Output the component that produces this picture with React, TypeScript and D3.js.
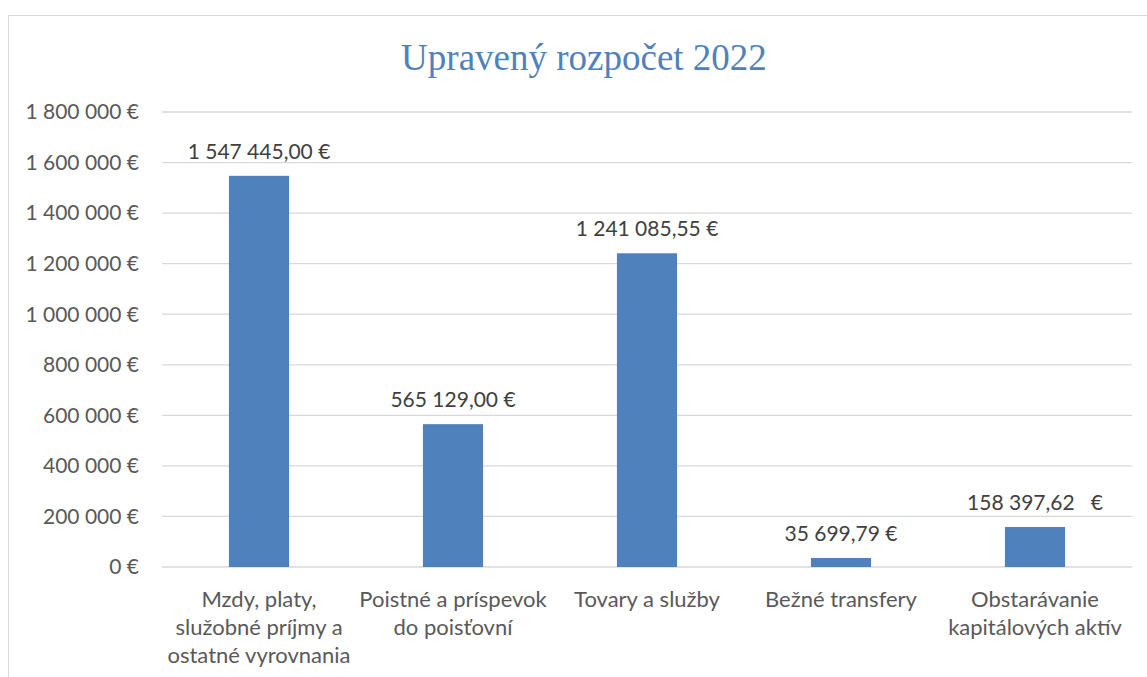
import React from "react";
import * as d3 from "d3";

const categories: string[][] = [
  ["Mzdy, platy,", "služobné príjmy a", "ostatné vyrovnania"],
  ["Poistné a príspevok", "do poisťovní"],
  ["Tovary a služby"],
  ["Bežné transfery"],
  ["Obstarávanie", "kapitálových aktív"],
];
const values: number[] = [1547445.0, 565129.0, 1241085.55, 35699.79, 158397.62];
const valueLabels: string[] = [
  "1 547 445,00 €",
  "565 129,00 €",
  "1 241 085,55 €",
  "35 699,79 €",
  "158 397,62   €",
];
const yTicks: number[] = [0, 200000, 400000, 600000, 800000, 1000000, 1200000, 1400000, 1600000, 1800000];
const title = "Upravený rozpočet 2022";

const W = 1147;
const H = 677;
const plotLeft = 162;
const plotRight = 1132;
const plotTop = 112;
const plotBottom = 567;
const FONT = "Lato, 'Open Sans', sans-serif";
const TEXT = "#595959";

const fmtTick = (v: number) =>
  (v === 0 ? "0" : d3.format(",")(v).replace(/,/g, " ")) + " €";

export default function App() {
  const x = d3
    .scaleBand<number>()
    .domain(categories.map((_, i) => i))
    .range([plotLeft, plotRight])
    .paddingInner(0.69)
    .paddingOuter(0.345);
  const y = d3.scaleLinear().domain([0, 1800000]).range([plotBottom, plotTop]);

  return (
    <svg
      width={W}
      height={H}
      style={{ position: "absolute", left: 0, top: 0, background: "#fff" }}
    >
      <rect x={8.5} y={15.5} width={1160} height={700} fill="#fff" stroke="#d9d9d9" strokeWidth={1} />
      <text
        x={584}
        y={70}
        textAnchor="middle"
        fontFamily="'Liberation Serif', 'Times New Roman', serif"
        fontSize={37}
        fill="#4F81BD"
      >
        {title}
      </text>
      {yTicks.map((t) => (
        <g key={t}>
          <line x1={plotLeft} x2={plotRight} y1={y(t)} y2={y(t)} stroke="#d9d9d9" strokeWidth={1.3} />
          <text
            x={139}
            y={y(t)}
            dy="0.35em"
            textAnchor="end"
            fontFamily={FONT}
            fontSize={21}
            fill={TEXT}
          >
            {fmtTick(t)}
          </text>
        </g>
      ))}
      {values.map((v, i) => (
        <g key={i}>
          <rect
            x={x(i)!}
            y={y(v)}
            width={x.bandwidth()}
            height={plotBottom - y(v)}
            fill="#4F81BD"
          />
          <text
            x={x(i)! + x.bandwidth() / 2}
            y={y(v) - 17}
            textAnchor="middle"
            fontFamily={FONT}
            fontSize={21}
            fill="#404040"
            style={{ whiteSpace: "pre" }}
          >
            {valueLabels[i]}
          </text>
          {categories[i].map((line, j) => (
            <text
              key={j}
              x={x(i)! + x.bandwidth() / 2}
              y={607 + j * 28}
              textAnchor="middle"
              fontFamily={FONT}
              fontSize={22}
              fill={TEXT}
            >
              {line}
            </text>
          ))}
        </g>
      ))}
    </svg>
  );
}
